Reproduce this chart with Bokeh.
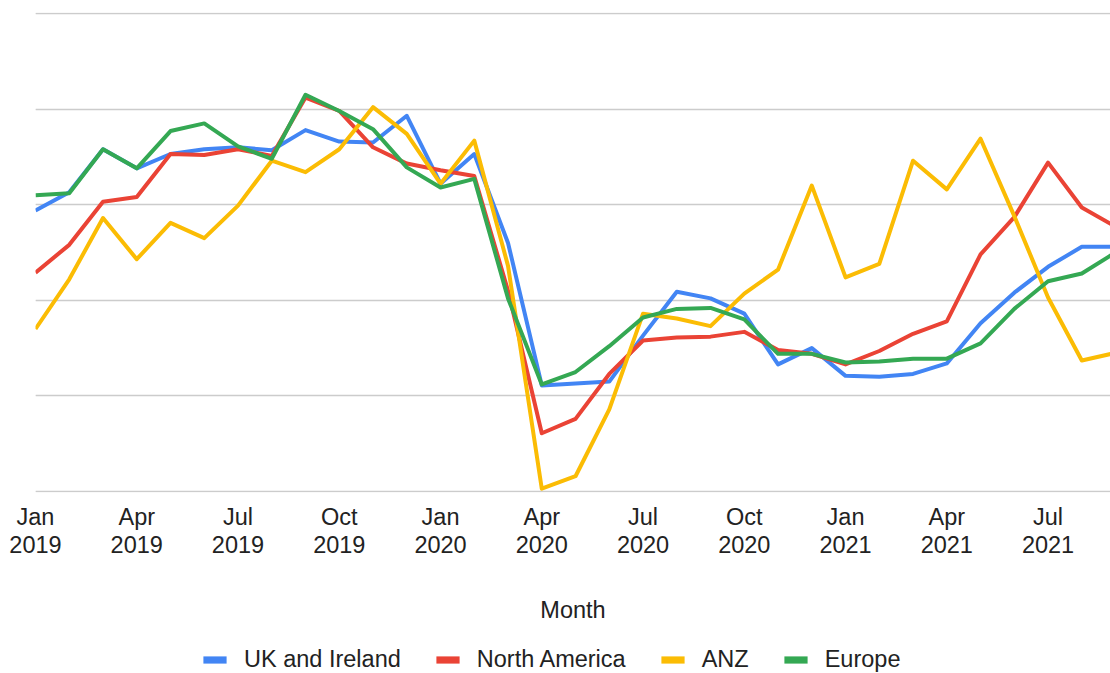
from bokeh.plotting import figure
from bokeh.models import FixedTicker, Range1d, Legend, LegendItem, Grid
from bokeh.layouts import column
from bokeh.embed import file_html
from bokeh.resources import INLINE

months = [
    "Jan 2019", "Feb 2019", "Mar 2019", "Apr 2019", "May 2019", "Jun 2019",
    "Jul 2019", "Aug 2019", "Sep 2019", "Oct 2019", "Nov 2019", "Dec 2019",
    "Jan 2020", "Feb 2020", "Mar 2020", "Apr 2020", "May 2020", "Jun 2020",
    "Jul 2020", "Aug 2020", "Sep 2020", "Oct 2020", "Nov 2020", "Dec 2020",
    "Jan 2021", "Feb 2021", "Mar 2021", "Apr 2021", "May 2021", "Jun 2021",
    "Jul 2021", "Aug 2021", "Sep 2021",
]

uk_ireland = [2.94, 3.13, 3.58, 3.38, 3.53, 3.58, 3.60, 3.57, 3.78, 3.66, 3.65, 3.93,
              3.22, 3.53, 2.60, 1.11, 1.13, 1.15, 1.63, 2.09, 2.02, 1.86, 1.33, 1.50,
              1.21, 1.20, 1.23, 1.34, 1.76, 2.08, 2.35, 2.56, 2.56]
north_america = [2.29, 2.58, 3.03, 3.08, 3.53, 3.52, 3.58, 3.51, 4.12, 3.98, 3.60, 3.43,
                 3.36, 3.30, 2.10, 0.61, 0.76, 1.23, 1.58, 1.61, 1.62, 1.67, 1.48, 1.44,
                 1.33, 1.47, 1.65, 1.78, 2.48, 2.87, 3.44, 2.97, 2.77]
anz = [1.70, 2.22, 2.86, 2.43, 2.81, 2.65, 2.99, 3.46, 3.34, 3.58, 4.02, 3.74,
       3.22, 3.67, 2.36, 0.03, 0.16, 0.86, 1.86, 1.81, 1.73, 2.07, 2.32, 3.20,
       2.24, 2.38, 3.46, 3.16, 3.69, 2.88, 2.03, 1.37, 1.45]
europe = [3.10, 3.12, 3.58, 3.38, 3.77, 3.85, 3.61, 3.48, 4.15, 3.98, 3.79, 3.39,
          3.18, 3.27, 2.02, 1.12, 1.25, 1.52, 1.82, 1.91, 1.92, 1.80, 1.44, 1.44,
          1.35, 1.36, 1.39, 1.39, 1.55, 1.91, 2.20, 2.28, 2.50]

series_names = ["UK and Ireland", "North America", "ANZ", "Europe"]
series_colors = ["#4285F4", "#EA4335", "#FBBC04", "#34A853"]
tick_index = [0, 3, 6, 9, 12, 15, 18, 21, 24, 27, 30]
y_grid_values = [0, 1, 2, 3, 4, 5]

FONT = "Liberation Sans"
FS = "23.5px"
TXT = "#222222"

x = list(range(len(months)))
all_series = [uk_ireland, north_america, anz, europe]

p = figure(width=1110, height=645, output_backend="svg", toolbar_location=None,
           x_range=Range1d(0, 31.85), y_range=Range1d(-0.01, 5.01),
           y_axis_location=None,
           min_border_left=35, min_border_right=0, min_border_top=12, min_border_bottom=153)
p.outline_line_color = None
p.background_fill_color = "white"
p.border_fill_color = "white"
p.xgrid.visible = False

p.add_layout(Grid(dimension=1, ticker=FixedTicker(ticks=y_grid_values),
                  grid_line_color="#cccccc", grid_line_width=1.5))

ax = p.xaxis[0]
ax.ticker = FixedTicker(ticks=tick_index)
ax.major_label_overrides = {i: months[i].replace(" ", "\n") for i in tick_index}
ax.axis_line_color = None
ax.major_tick_line_color = None
ax.minor_tick_line_color = None
ax.major_label_text_font = FONT
ax.major_label_text_font_size = FS
ax.major_label_text_color = TXT
ax.major_label_text_line_height = 1.1
ax.major_label_standoff = 5
ax.axis_label = "Month"
ax.axis_label_text_font = FONT
ax.axis_label_text_font_size = FS
ax.axis_label_text_font_style = "normal"
ax.axis_label_text_color = TXT
ax.axis_label_standoff = 36

for name, color, vals in zip(series_names, series_colors, all_series):
    p.line(x, vals, line_color=color, line_width=4, line_join="round")

# legend strip below the chart (its data range is set so nothing is drawn in it)
lg = figure(width=1110, height=28, output_backend="svg", toolbar_location=None,
            x_range=Range1d(0, 1), y_range=Range1d(-100, -99),
            x_axis_location=None, y_axis_location=None,
            min_border_left=35, min_border_right=0, min_border_top=0, min_border_bottom=0)
lg.outline_line_color = None
lg.background_fill_color = "white"
lg.border_fill_color = "white"
lg.grid.visible = False

items = []
for name, color, vals in zip(series_names, series_colors, all_series):
    q = lg.quad(left=x, right=x, top=vals, bottom=vals, fill_color=color, line_color=None)
    items.append(LegendItem(label=name, renderers=[q]))

legend = Legend(items=items, orientation="horizontal", location=(165, 0),
                glyph_width=29, glyph_height=9, label_standoff=15, spacing=32,
                padding=0, margin=0, border_line_color=None, background_fill_alpha=0,
                label_text_font=FONT, label_text_font_size=FS, label_text_color=TXT,
                label_height=28)
lg.add_layout(legend)

layout = column(p, lg, spacing=0)

open("out.html", "w").write(file_html(layout, INLINE))
